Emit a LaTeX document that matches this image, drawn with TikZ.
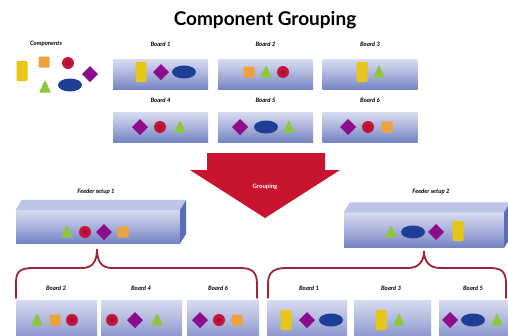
\documentclass[tikz,border=0pt]{standalone}
\usepackage{fontspec}
\setmainfont{Lato}
\definecolor{cyel}{HTML}{E6C619}
\definecolor{cora}{HTML}{F0A23A}
\definecolor{cred}{HTML}{C3143A}
\definecolor{cpur}{HTML}{8C0C8C}
\definecolor{cgrn}{HTML}{8DC63F}
\definecolor{cblu}{HTML}{1F3E96}
\definecolor{cbrace}{HTML}{9E2436}
\definecolor{carrow}{HTML}{C8142E}
\definecolor{btop}{HTML}{D8DBF0}
\definecolor{bmid}{HTML}{A9B2DC}
\definecolor{bbot}{HTML}{7483C2}
\definecolor{sidec}{HTML}{5A6DB8}
\definecolor{topc}{HTML}{BCC4E8}
\begin{document}
\begin{tikzpicture}[x=1pt,y=-1pt,
  board/.style={rectangle, inner sep=0pt, minimum width=95pt, minimum height=30pt,
    top color=btop, bottom color=bbot, middle color=bmid},
  lbl/.style={inner sep=0pt, font=\fontsize{6}{7}\selectfont\bfseries\itshape},
  yrect/.pic={\fill[cyel, rounded corners=1pt] (-5.5,-10) rectangle (5.5,10);},
  osq/.pic={\fill[cora, rounded corners=1pt] (-5.5,-5.5) rectangle (5.5,5.5);},
  rcirc/.pic={\fill[cred] (0,0) circle (6); \fill[cred!85!black] (0,0) circle (2.5);},
  pdia/.pic={\fill[cpur] (0,-8) -- (8,0) -- (0,8) -- (-8,0) -- cycle;},
  gtri/.pic={\fill[cgrn, rounded corners=1pt] (0,-7) -- (6,5.5) -- (-6,5.5) -- cycle;},
  bell/.pic={\fill[cblu] (0,0) ellipse (12 and 6.5);},
  bracec/.style={draw=cbrace, line width=1.8pt, line cap=round}
]
\clip (0,0) rectangle (508,335);
\fill[white] (0,0) rectangle (508,335);

% Title
\node[font=\fontsize{19}{22}\selectfont\bfseries] (title) at (265,20) {Component Grouping};

% Components legend
\node[lbl] (clbl) at (46,44) {Components};
\pic at (22,71) {yrect};
\pic at (44,62) {osq};
\pic at (68,63) {rcirc};
\pic at (90,74) {pdia};
\pic at (45,87) {gtri};
\pic at (70,85) {bell};

% Row 1 boards
\node[board] (b1) at (160.5,74.5) {};
\node[lbl] (b1l) at (160.5,44) {Board 1};
\pic at (141,72) {yrect}; \pic at (161,72) {pdia}; \pic at (184,72) {bell};
\node[board] (b2) at (265.5,74.5) {};
\node[lbl] (b2l) at (265.5,44) {Board 2};
\pic at (249,72) {osq}; \pic at (266,72) {gtri}; \pic at (283,72) {rcirc};
\node[board] (b3) at (370,74.5) {};
\node[lbl] (b3l) at (370,44) {Board 3};
\pic at (362,72) {yrect}; \pic at (379,72) {gtri};

% Row 2 boards
\node[board] (b4) at (160.5,127) {};
\node[lbl] (b4l) at (160.5,100) {Board 4};
\pic at (140,127) {pdia}; \pic at (160,127) {rcirc}; \pic at (180,127) {gtri};
\node[board] (b5) at (265.5,127) {};
\node[lbl] (b5l) at (265.5,100) {Board 5};
\pic at (240,127) {pdia}; \pic at (266,127) {bell}; \pic at (289,127) {gtri};
\node[board] (b6) at (370,127) {};
\node[lbl] (b6l) at (370,100) {Board 6};
\pic at (348,127) {pdia}; \pic at (368,127) {rcirc}; \pic at (387,127) {osq};

% Arrow
\fill[carrow] (207,153) -- (325,153) -- (325,170) -- (340,170) -- (265,218) -- (190,170) -- (207,170) -- cycle;
\node[text=white, font=\fontsize{6}{7}\selectfont\bfseries] (grp) at (265,187) {Grouping};

% Feeder setup 1
\node[board, minimum width=164pt, minimum height=33pt] (f1) at (98,226.5) {};
\fill[topc] (f1.north west) -- ++(6,-10) -- ++(164,0) -- (f1.north east) -- cycle;
\fill[sidec] (f1.north east) -- ++(6,-10) -- ++(0,34) -- (f1.south east) -- cycle;
\node[lbl] (f1l) at (96,192) {Feeder setup 1};
\pic at (67,232) {gtri}; \pic at (85,232) {rcirc}; \pic at (104,232) {pdia}; \pic at (123,232) {osq};

% Feeder setup 2
\node[board, minimum width=160pt, minimum height=35pt] (f2) at (424,230) {};
\fill[topc] (f2.north west) -- ++(6,-10) -- ++(160,0) -- (f2.north east) -- cycle;
\fill[sidec] (f2.north east) -- ++(6,-10) -- ++(0,36) -- (f2.south east) -- cycle;
\node[lbl] (f2l) at (431,192) {Feeder setup 2};
\pic at (391,232) {gtri}; \pic at (413,232) {bell}; \pic at (436,232) {pdia}; \pic at (458,231) {yrect};

% Braces
\coordinate (p1) at (97,249);
\coordinate (p2) at (424,251);
\draw[bracec] (16,298) -- (16,282) .. controls (16,270) and (22,268) .. (34,268)
  -- (82,268) .. controls (92,268) and (97,262) .. (p1)
  .. controls (97,262) and (102,268) .. (112,268)
  -- (240,268) .. controls (252,268) and (257,272) .. (257,284) -- (257,298);
\draw[bracec] (268,298) -- (268,284) .. controls (268,272) and (274,268) .. (286,268)
  -- (408,268) .. controls (418,268) and (424,262) .. (p2)
  .. controls (424,262) and (430,268) .. (440,268)
  -- (490,268) .. controls (502,268) and (506,272) .. (506,284) -- (506,298);

% Bottom boards
\tikzset{bboard/.style={board, minimum height=46pt}}
\node[bboard, minimum width=81pt] (c2) at (56.5,323) {};
\node[lbl] (c2l) at (56,288) {Board 2};
\pic at (37,320) {gtri}; \pic at (55,320) {osq}; \pic at (72,320) {rcirc};
\node[bboard, minimum width=81pt] (c4) at (141.5,323) {};
\node[lbl] (c4l) at (141,288) {Board 4};
\pic at (112,320) {rcirc}; \pic at (135,320) {pdia}; \pic at (157,320) {gtri};
\node[bboard, minimum width=72pt] (c6) at (223,323) {};
\node[lbl] (c6l) at (218,288) {Board 6};
\pic at (200,320) {pdia}; \pic at (219,320) {rcirc}; \pic at (237,320) {osq};
\node[bboard, minimum width=80pt] (c1) at (307,323) {};
\node[lbl] (c1l) at (309,288) {Board 1};
\pic at (286,320) {yrect}; \pic at (307,320) {pdia}; \pic at (331,320) {bell};
\node[bboard, minimum width=77pt] (c3) at (392.5,323) {};
\node[lbl] (c3l) at (391,288) {Board 3};
\pic at (381,320) {yrect}; \pic at (399,320) {gtri};
\node[bboard, minimum width=76pt] (c5) at (477,323) {};
\node[lbl] (c5l) at (473,288) {Board 5};
\pic at (450,320) {pdia}; \pic at (473,320) {bell}; \pic at (497,320) {gtri};
\end{tikzpicture}
\end{document}
